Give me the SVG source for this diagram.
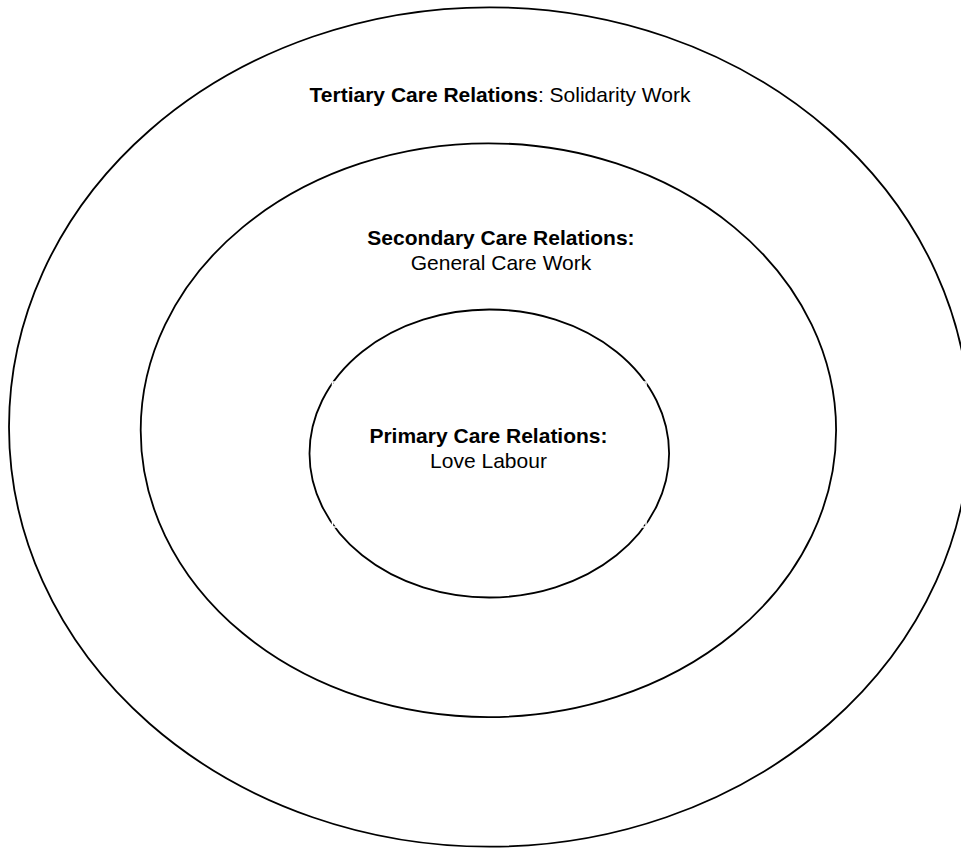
<svg xmlns="http://www.w3.org/2000/svg" width="961" height="848" viewBox="0 0 961 848">
<style>
.ring{fill:none;stroke:#000;stroke-width:1.8}
.t{font-family:"Liberation Sans",Arial,sans-serif;font-size:21px;fill:#000;text-anchor:middle}
.b{font-weight:bold}
</style>
<rect width="961" height="848" fill="#fff"/>
<g id="tertiary">
<ellipse class="ring" cx="489.4" cy="427" rx="480.4" ry="419.7"/>
<text class="t" x="500" y="101.7"><tspan class="b">Tertiary Care Relations</tspan>: Solidarity Work</text>
</g>
<g id="secondary">
<ellipse class="ring" cx="488.4" cy="430.2" rx="347.7" ry="286.9"/>
<text class="t b" x="501" y="245">Secondary Care Relations:</text>
<text class="t" x="501" y="270">General Care Work</text>
</g>
<g id="primary">
<ellipse class="ring" cx="489.3" cy="453.5" rx="179.8" ry="144"/>
<rect x="332.5" y="382" width="313.5" height="145" fill="none" stroke="#fff" stroke-width="1.5"/>
<text class="t b" x="488.5" y="443.3">Primary Care Relations:</text>
<text class="t" x="488.5" y="468.3">Love Labour</text>
</g>
<g id="connectors"/>
</svg>
